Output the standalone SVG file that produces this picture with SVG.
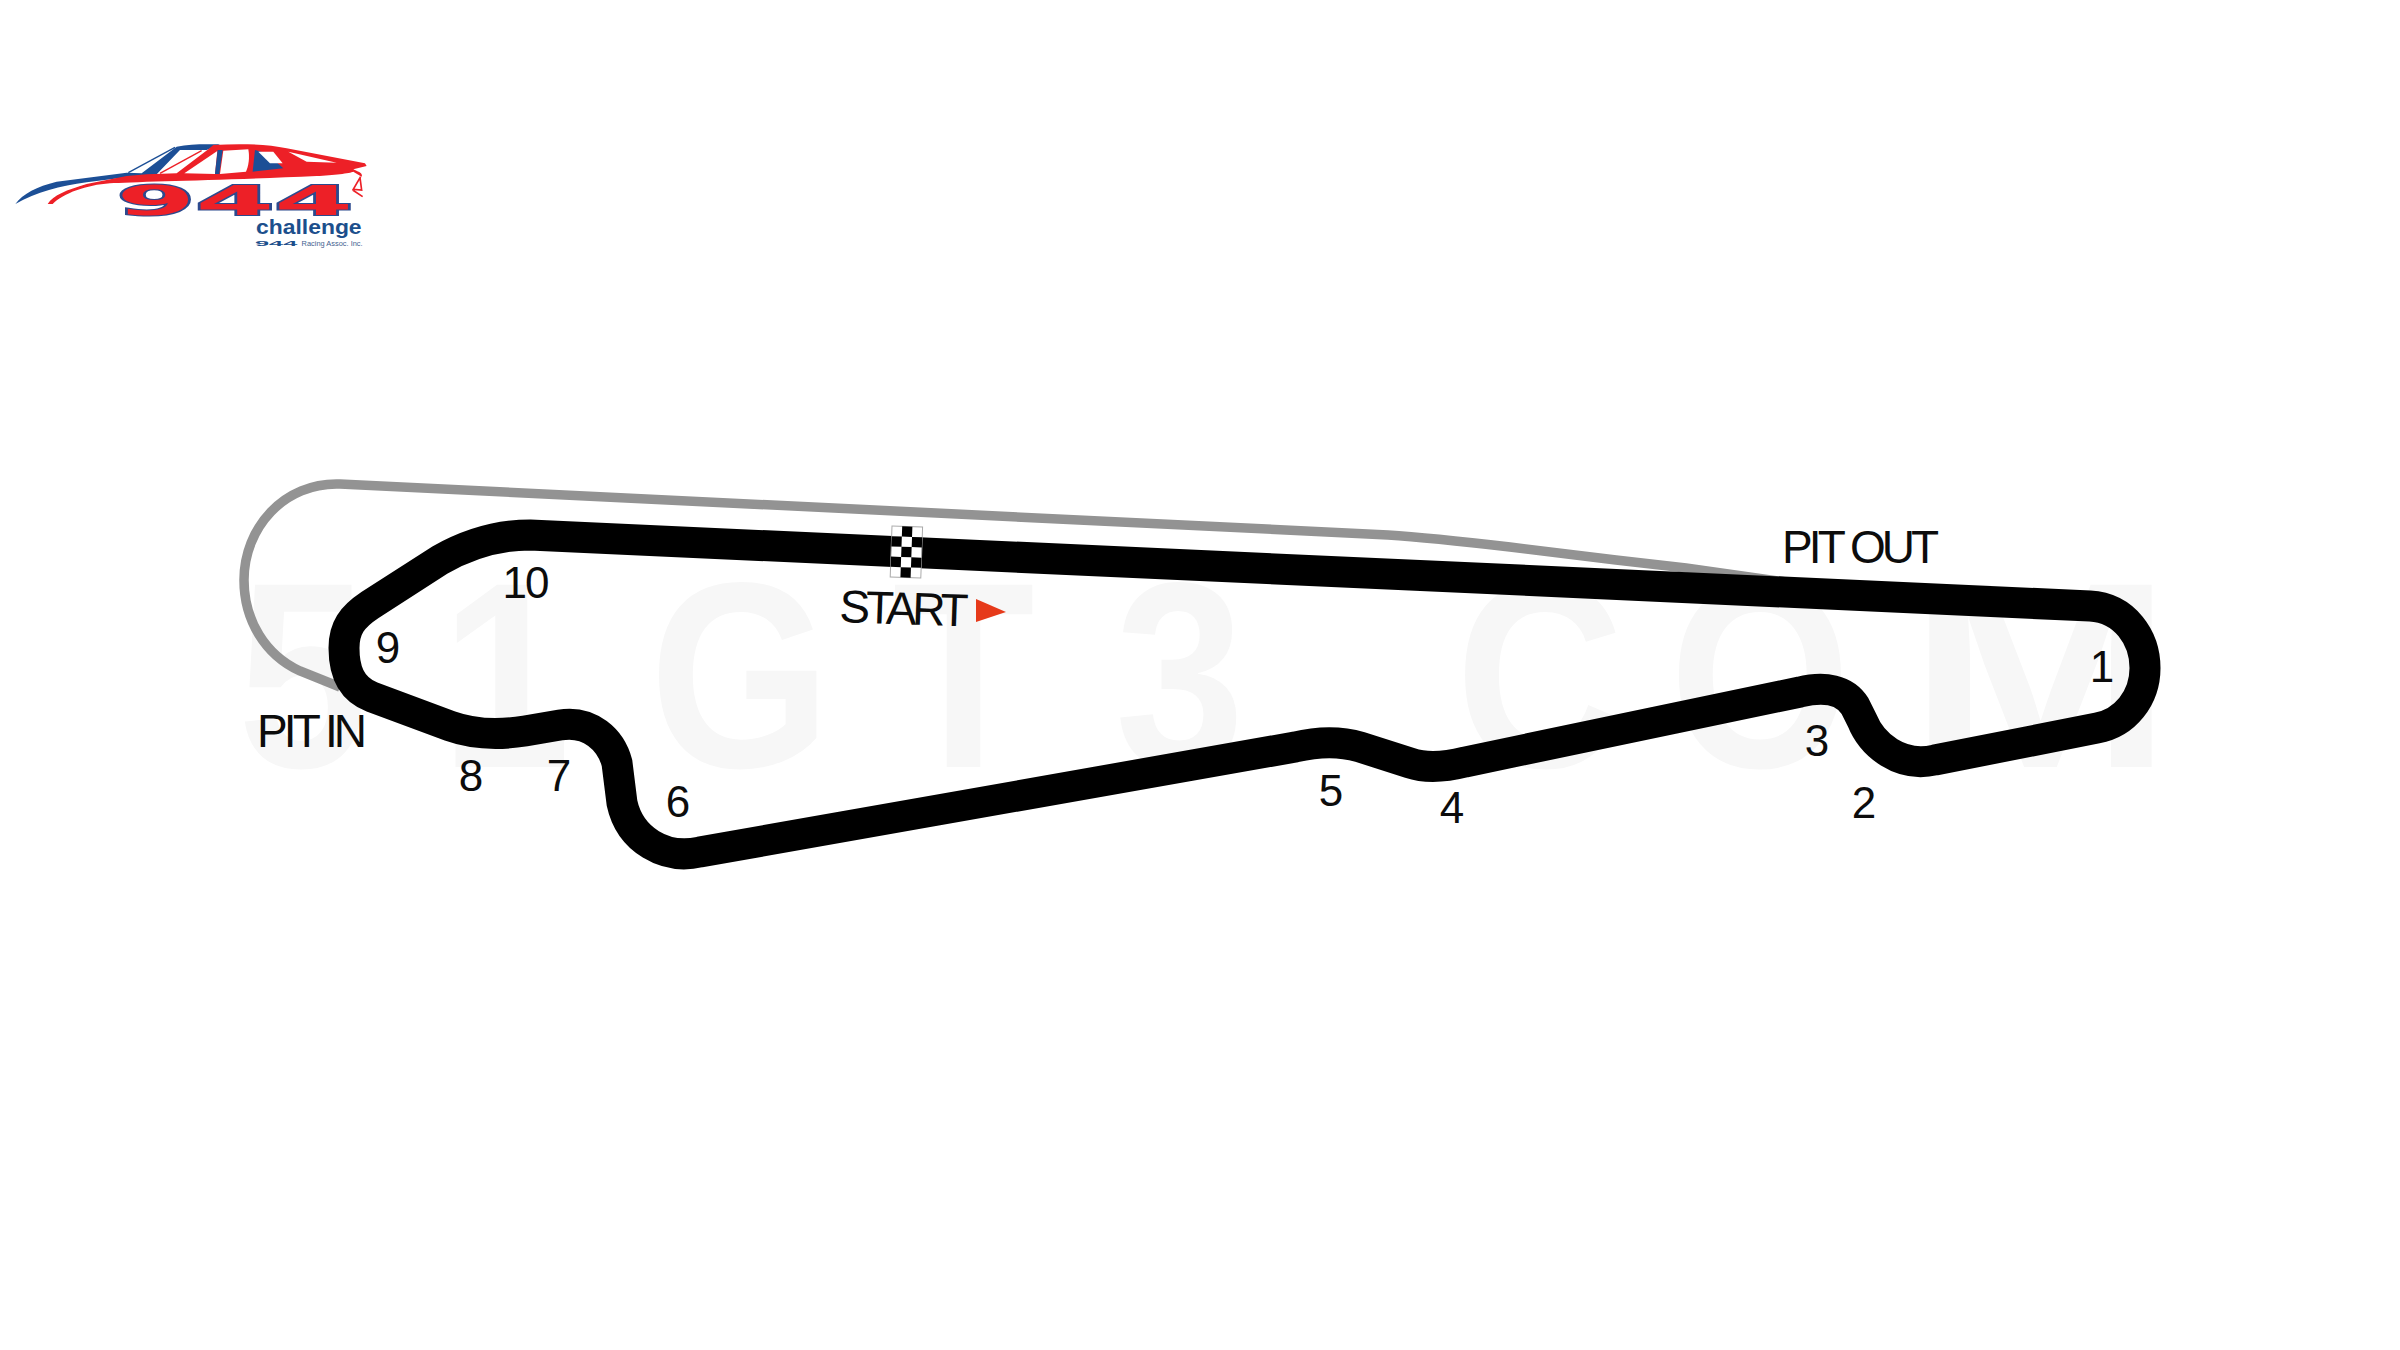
<svg xmlns="http://www.w3.org/2000/svg" width="2400" height="1350" viewBox="0 0 2400 1350">
<style>
text{font-family:"Liberation Sans",Arial,sans-serif}
.wm{font-size:265px;font-weight:700;fill:#f7f7f7}
.n{font-size:44px;fill:#0c0c0c;text-anchor:middle}
.l{font-size:46px;fill:#0c0c0c;letter-spacing:-3.9px}
.r{fill:#ed2027}
.b{fill:#1c4f96}
.w{fill:#fff}
.lb{fill:#1c4f8c;font-weight:700}
</style>
<rect width="2400" height="1350" fill="#fff"/>
<g id="watermark">
<text class="wm" transform="scale(.88 1)" y="767" x="270 501 738 1014 1267">51GT3</text>
<text class="wm" transform="scale(.88 1)" y="767" x="1654 1897">CO</text>
<text class="wm" transform="scale(1.2 1)" y="767" x="1590">M</text>
</g>
<g id="logo" transform="translate(0 130) scale(.3333)">
<path class="b" d="M46 222C70 190 110 170 170 155L380 128L425 130L530 50C570 42 610 42 660 43L620 60L540 60L465 138L380 142L260 157C180 167 110 187 46 222Z"/>
<path d="M385 128L525 52" stroke="#1c4f96" stroke-width="4" fill="none"/>
<path class="r" d="M143 222C160 195 200 180 260 162L380 138L440 133L530 130L625 58L640 45C720 40 800 42 860 55L1095 100L1100 108L1060 118C1075 125 1090 130 1085 140L1060 125C1050 130 1000 135 950 138C700 150 400 155 330 160C260 165 190 190 158 222Z"/>
<path d="M480 130L605 62" stroke="#ed2027" stroke-width="4" fill="none"/>
<path class="w" d="M553 130L652 63L645 132Z"/>
<path class="b" d="M653 60L668 60L658 132L645 132Z"/>
<path class="w" d="M670 62L745 58C750 85 745 110 738 125L660 132Z"/>
<path class="b" d="M765 60L800 70L850 115L758 125Z"/>
<path class="w" d="M775 65L820 65L848 100L810 100Z"/>
<path class="w" d="M865 65L1010 98L920 95Z"/>
<path d="M1082 140L1060 178L1085 180L1080 142M1058 180L1088 200" stroke="#ed2027" stroke-width="5" fill="none"/>
<text x="350" y="256" font-size="120" font-weight="700" textLength="710" lengthAdjust="spacingAndGlyphs" fill="#ed2027" stroke="#2c4a8e" stroke-width="6" paint-order="stroke" style="font-family:'DejaVu Sans',sans-serif">944</text>
<text class="lb" x="768" y="312" font-size="58" textLength="317" lengthAdjust="spacingAndGlyphs">challenge</text>
<text class="lb" x="765" y="347" font-size="22" textLength="127" lengthAdjust="spacingAndGlyphs">944</text>
<text x="905" y="347" font-size="22" fill="#44618f" textLength="183" lengthAdjust="spacingAndGlyphs">Racing Assoc. Inc.</text>
</g>
<g id="connectors" fill="none">
<path id="pit-lane" d="M340 687L300 671C265 655 244 620 244 580C244 528 284 482 340 484L1388 535C1420 537 1450 540 1510 547L1616 560L1686 568L1800 584" stroke="#939393" stroke-width="9.5"/>
<path id="track" d="M530 535L2090 606C2125 608 2145 638 2145 668C2145 698 2125 723 2097 728L1935 760C1900 768 1872 745 1862 720L1855 706C1845 690 1825 686 1800 692L1465 762C1445 767 1425 768 1410 763L1360 747C1340 741 1320 741 1295 747L700 852C665 860 630 840 622 803L617 763C611 740 590 720 560 725L525 731C500 735 475 735 450 726L372 697C349 688 344 668 344 648C344 628 352 617 370 605L440 560C470 543 500 535 530 535Z" stroke="#000" stroke-width="31"/>
</g>
<g id="start-line" transform="translate(892 526) rotate(2)">
<rect width="30.6" height="51" fill="#fff" stroke="#aaa" stroke-width="1"/>
<path d="M10.2 0h10.2v10.2H10.2zM0 10.2h10.2v10.2H0zM20.4 10.2h10.2v10.2H20.4zM10.2 20.4h10.2v10.2H10.2zM0 30.6h10.2v10.2H0zM20.4 30.6h10.2v10.2H20.4zM10.2 40.8h10.2V51H10.2z"/>
</g>
<g id="labels">
<text class="n" x="525" y="598" style="letter-spacing:-2px">10</text>
<text class="n" x="388" y="663">9</text>
<text class="n" x="471" y="791">8</text>
<text class="n" x="559" y="791">7</text>
<text class="n" x="678" y="817">6</text>
<text class="n" x="1331" y="806">5</text>
<text class="n" x="1452" y="823">4</text>
<text class="n" x="1817" y="756">3</text>
<text class="n" x="1864" y="818">2</text>
<text class="n" x="2102" y="682">1</text>
<text class="l" x="257" y="747">PIT IN</text>
<text class="l" x="1782" y="563">PIT OUT</text>
<text class="l" x="839" y="622" transform="rotate(2 839 622)" style="letter-spacing:-4.4px">START</text>
<path id="start-arrow" d="M976 599L976 622L1006 612Z" fill="#e63a1a"/>
</g>
</svg>
